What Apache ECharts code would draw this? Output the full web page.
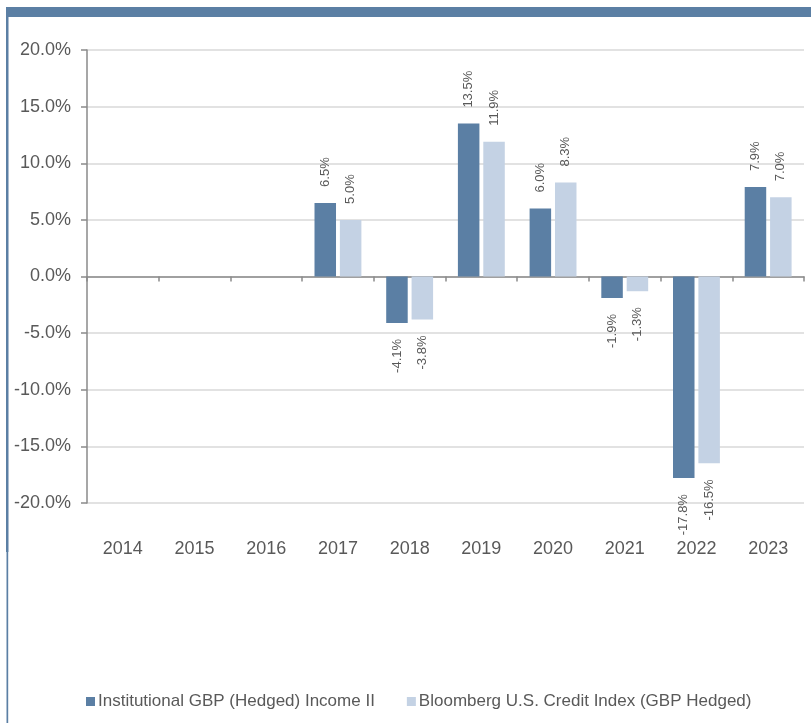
<!DOCTYPE html>
<html><head><meta charset="utf-8">
<script src="https://cdn.jsdelivr.net/npm/echarts@6/dist/echarts.min.js"></script>
<style>html,body{margin:0;padding:0;background:#fff}#c{width:811px;height:723px}</style>
</head><body><div id="c"></div>
<script>
var years = ['2014','2015','2016','2017','2018','2019','2020','2021','2022','2023'];
var fundName = 'Institutional GBP (Hedged) Income II';
var indexName = 'Bloomberg U.S. Credit Index (GBP Hedged)';
var fundValues = [null, null, null, 6.5, -4.1, 13.5, 6.0, -1.9, -17.8, 7.9];
var indexValues = [null, null, null, 5.0, -3.8, 11.9, 8.3, -1.3, -16.5, 7.0];
var yTicks = [-20, -15, -10, -5, 0, 5, 10, 15, 20];

var FONT = 'Liberation Sans, Arial, sans-serif';
var TXT = '#595959';
var DARK = '#5b7fa4';
var LIGHT = '#c4d2e4';

function toItems(arr) {
  return arr.map(function (v) {
    if (v === null) return null;
    return {
      value: v,
      label: v < 0 ? { position: 'bottom', align: 'right' } : { position: 'top', align: 'left' }
    };
  });
}
var labelBase = {
  show: true, rotate: 90, distance: 16, verticalAlign: 'middle',
  fontFamily: FONT, fontSize: 13, color: TXT,
  formatter: function (p) { return p.value.toFixed(1) + '%'; }
};

var chart = echarts.init(document.getElementById('c'), null, { renderer: 'canvas' });
chart.setOption({
  animation: false,
  textStyle: { fontFamily: FONT },
  grid: { left: 87, right: 7, top: 50, bottom: 220, containLabel: false },
  graphic: [
    { type: 'rect', shape: { x: 6, y: 7, width: 805, height: 10 }, style: { fill: DARK } },
    { type: 'rect', shape: { x: 6, y: 17, width: 2.5, height: 535 }, style: { fill: DARK } },
    { type: 'rect', shape: { x: 6.5, y: 552, width: 1.7, height: 171 }, style: { fill: DARK } }
  ],
  legend: {
    left: 81, top: 688, itemWidth: 9, itemHeight: 9, itemGap: 32,
    icon: 'rect',
    textStyle: { fontFamily: FONT, fontSize: 17, color: TXT, padding: [0, 0, 0, -2] },
    data: [fundName, indexName]
  },
  xAxis: [
    {
      type: 'category', data: years, position: 'bottom',
      axisLine: { onZero: true, lineStyle: { color: '#8a8a8a', width: 1.5 } },
      axisTick: { show: true, length: 5, lineStyle: { color: '#8a8a8a', width: 1.5 } },
      axisLabel: { show: false },
      splitLine: { show: false }
    },
    {
      type: 'category', data: years, position: 'bottom',
      axisLine: { show: false }, axisTick: { show: false },
      axisLabel: { show: true, margin: 37, fontFamily: FONT, fontSize: 18, color: TXT }
    }
  ],
  yAxis: {
    type: 'value', min: yTicks[0], max: yTicks[yTicks.length - 1], interval: 5,
    axisLine: { show: true, lineStyle: { color: '#8a8a8a', width: 1.5 } },
    axisTick: { show: true, length: 6, lineStyle: { color: '#8a8a8a', width: 1.5 } },
    axisLabel: { margin: 16, fontFamily: FONT, fontSize: 18, color: TXT,
      formatter: function (v) { return v.toFixed(1) + '%'; } },
    splitLine: { show: true, lineStyle: { color: '#d9d9d9', width: 1.5 } }
  },
  series: [
    { name: fundName, type: 'bar', xAxisIndex: 0, data: toItems(fundValues),
      barWidth: '30%', barGap: '18%', itemStyle: { color: DARK }, label: labelBase },
    { name: indexName, type: 'bar', xAxisIndex: 0, data: toItems(indexValues),
      barWidth: '30%', barGap: '18%', itemStyle: { color: LIGHT }, label: labelBase }
  ]
});
</script></body></html>
